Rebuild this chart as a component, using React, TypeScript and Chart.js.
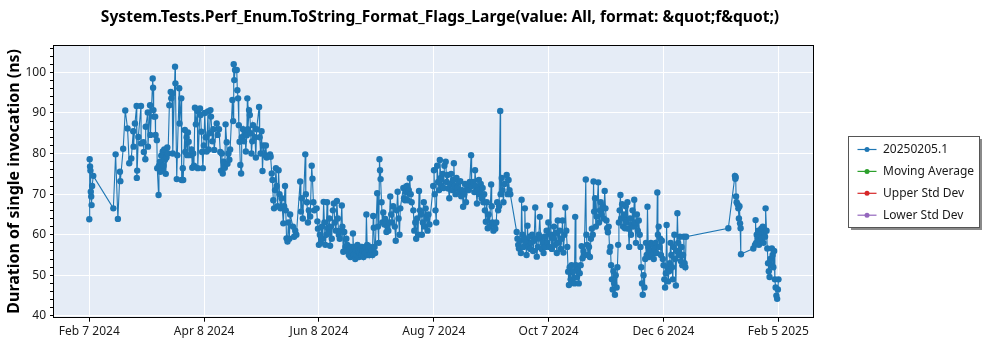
import React, { useEffect, useRef } from "react";
import { Chart, registerables } from "chart.js";

Chart.register(...registerables);

const chartTitle =
  "System.Tests.Perf_Enum.ToString_Format_Flags_Large(value: All, format: &quot;f&quot;)";
const yAxisTitle = "Duration of single invocation (ns)";

const seriesNames = ["20250205.1", "Moving Average", "Upper Std Dev", "Lower Std Dev"];
const seriesColors = ["#1f77b4", "#2ca02c", "#d62728", "#9467bd"];

// x values are days after Feb 7 2024
const xTickDays = [0, 60.67, 121.33, 182, 242.67, 303.33, 364];
const xTickLabels = [
  "Feb 7 2024",
  "Apr 8 2024",
  "Jun 8 2024",
  "Aug 7 2024",
  "Oct 7 2024",
  "Dec 6 2024",
  "Feb 5 2025",
];
const xRange = [-18.65, 382.5];
const yRange = [39.8, 106.5];
const yMajorStep = 10;
const yMinorStep = 2;

// [day, duration ns]
const samples: [number, number][] = [
  [0, 63.8], [0.2, 78.6], [0.4, 76.8], [0.6, 75.8], [0.8, 70.6], [1.0, 69.4], [1.2, 67.3], [1.5, 72], [2.1, 74.5],
  [12.7, 66.5], [13.9, 79.8], [15.1, 63.9], [16.2, 75.5], [16.4, 73.2], [17.9, 81.2], [19, 90.6], [20.2, 86.2],
  [21.1, 77.6], [22.2, 78.8], [23.2, 85.5], [23.4, 81.7], [24.1, 87.4], [25, 91.7], [25.1, 74], [25.3, 75.8],
  [25.9, 84.1], [27.3, 91.7], [27.4, 82.5], [28.6, 82.8], [28.8, 80.4], [29.6, 78.6], [29.8, 86.6], [30.9, 90.1],
  [31, 81.7], [32.1, 91.9], [32.3, 84.6], [33.5, 98.5], [33.7, 96.2], [33.9, 90.7], [34.1, 89.1], [34.8, 89.1],
  [35, 84.6], [35.7, 83.3], [35.9, 76.4], [36.6, 69.8], [36.8, 77],
  [37.3, 78], [37.6, 75.5], [38, 79.5], [38.4, 76], [38.8, 80.5], [39.2, 77], [39.6, 81], [40, 78.5], [40.4, 75],
  [40.8, 79], [41.2, 81.5], [41.6, 80],
  [42.3, 91.9], [43, 95.2], [43.3, 93.6], [43.8, 94.8], [44.1, 80], [45.3, 101.4], [45.5, 97.3], [46.2, 73.7],
  [46.5, 79.6], [47.5, 96.1], [47.7, 87.4], [48.6, 93.6], [48.8, 73.5], [49.4, 76.4], [49.6, 73.5], [50.5, 85.8],
  [50.7, 80.4], [51.4, 84], [51.7, 79.6], [52.1, 85.2], [52.5, 82.9], [53.3, 79.6], [54, 81], [54.4, 76.5],
  [54.9, 80], [55.3, 77], [55.8, 91.3], [56.3, 87.2], [57.1, 90.5], [57.3, 76.4],
  [58.5, 91.1], [58.8, 89.5], [59.2, 85.4], [59.6, 80.4], [60, 76.4], [60.5, 82], [61, 90], [61.5, 84], [62, 80.5],
  [62.7, 90.4], [63, 81], [63.5, 85], [64, 90.7], [64.3, 89.1], [65, 83], [65.5, 86], [66, 80.9],
  [67.3, 87.4], [67.8, 84.6], [68.5, 86],
  [69.2, 80.4], [69.6, 75.8], [70, 80], [70.5, 75.1], [71, 78], [71.6, 76.5], [72, 87.2],
  [72.6, 82.8], [73, 77.5], [73.5, 80], [74, 78.5], [74.4, 81],
  [75.6, 93.2], [76, 88], [76.3, 102], [76.6, 98.1], [77, 100.6], [77.9, 100.6], [78.2, 95.6], [78.6, 93.6],
  [79, 87], [79.4, 82.9], [79.8, 77.2], [80.2, 75.1], [80.5, 84],
  [81.2, 86], [81.7, 83], [82.2, 85], [82.7, 80.5], [83.2, 84.5], [83.5, 93.6], [83.8, 86],
  [84.4, 90.7], [84.8, 89.5], [85.3, 85], [85.7, 80], [86.1, 83], [86.5, 87],
  [87.5, 84], [88, 79], [88.4, 86], [89.7, 91.5], [90, 84],
  [90.5, 80], [91, 85.5], [91.5, 75.7], [92, 82], [92.8, 79.6], [93.3, 82], [93.7, 79], [95.5, 79.8], [95.8, 79.2],
  [96.4, 75.1], [96.8, 73.5], [97.2, 68.5], [97.6, 66.5], [98.1, 71],
  [98.6, 76.4], [99, 72], [99.5, 67], [100, 75.9], [100.5, 70], [101, 66.5], [101.6, 69],
  [102.5, 62.8], [102.9, 67],
  [103.4, 72], [103.8, 66], [104.2, 59.1], [104.7, 58.3], [105.2, 63], [105.7, 59], [106.1, 65],
  [107.6, 62], [108.2, 59.5], [108.8, 61], [109.4, 60],
  [111.4, 73.1], [111.8, 65.7], [112.3, 69], [112.8, 64], [114.1, 79.8], [114.4, 70],
  [115, 68], [115.5, 63], [116, 66], [116.7, 64.5],
  [117.5, 77], [117.9, 73.8], [118.4, 68], [118.9, 66],
  [120.1, 66.5], [120.5, 63.3],
  [120.8, 61.5], [121.3, 57.5], [121.8, 60], [122.3, 58], [122.8, 62], [123.3, 59],
  [123.8, 68.1], [124.2, 63], [124.7, 57.5], [125.2, 60], [125.6, 68], [126, 61.6], [126.3, 60.5],
  [126.8, 64], [127.2, 57.3], [127.7, 62], [128.1, 59],
  [128.7, 66], [129.2, 67.7], [129.7, 63], [130.3, 61], [130.8, 68.3], [131.3, 64],
  [131.8, 60], [132.3, 59], [132.8, 61], [133.4, 67.2], [133.7, 62],
  [134.2, 55.8], [134.7, 60.7], [135.3, 57], [135.8, 59],
  [136.3, 57.5], [136.7, 56], [137.1, 55], [137.5, 56.5], [137.9, 54.5], [138.3, 57], [138.7, 55.5], [139.1, 56],
  [139.3, 60.3], [139.7, 55], [140.1, 57], [140.5, 54], [140.9, 56], [141.3, 55], [141.7, 57.5], [142.1, 56],
  [142.5, 54.5], [142.9, 55.5], [143.3, 56.5], [143.7, 55], [144.1, 57], [144.5, 56], [144.9, 54.5], [145.3, 56],
  [145.7, 55.5], [146.1, 57], [146.4, 65], [146.8, 57.5], [147.2, 55], [147.6, 56.5], [148, 55], [148.4, 57],
  [148.8, 55.5], [149.2, 56], [149.6, 55], [150, 64.6], [150.3, 61.7], [150.7, 57], [151, 55.5],
  [152.1, 70.2], [152.5, 62], [152.9, 58],
  [153.3, 78.6], [153.6, 75.9], [153.9, 73.7],
  [154.4, 68], [154.8, 63], [155.3, 65.5],
  [155.9, 62.5], [156.4, 63.9], [157, 60.7], [157.5, 62], [158, 61], [158.5, 63],
  [159, 69.4], [159.5, 65], [160, 63], [160.5, 67],
  [161.4, 62], [161.9, 58.5], [162.4, 66], [162.9, 70.6], [163.4, 64], [163.9, 60], [164.3, 66.5],
  [165.9, 71.5], [166.3, 69], [166.8, 68.5], [167.3, 70.5], [167.8, 72], [168.3, 68.5], [168.8, 71], [169.3, 73.9],
  [169.8, 70], [170.3, 68],
  [171.2, 66], [171.7, 61], [172.2, 63], [172.7, 59], [173.2, 64], [173.7, 60], [174.2, 70.8], [174.7, 66],
  [175.2, 65], [175.7, 60], [176.2, 63], [176.7, 68], [177.2, 62], [177.7, 66.5], [178.2, 64], [178.7, 61],
  [179.2, 65], [179.7, 62.5],
  [181.7, 72], [182.1, 75.9], [182.5, 70], [182.9, 66], [183.3, 63],
  [183.8, 77], [184.3, 73], [184.8, 71], [185.2, 78.4], [185.7, 74], [186.2, 72], [186.7, 75], [187.2, 71.5],
  [187.6, 77], [188.3, 78], [188.8, 73],
  [189.2, 74.7], [189.7, 71.4], [190.2, 69], [190.7, 72.5], [191.2, 75], [191.7, 71], [192.2, 73.5], [192.6, 77.6],
  [193, 72], [193.5, 70], [194, 74], [194.5, 71.5], [195, 73], [195.5, 70.5],
  [196, 73.2], [196.5, 69.5], [197, 71], [197.5, 66.9], [198, 70], [198.5, 72.5], [199, 68],
  [200, 72], [200.5, 71], [201, 73], [201.7, 79.6], [202, 72],
  [202.9, 73], [203.4, 70.5], [203.8, 75.9], [204.3, 72], [204.8, 67.7], [205.3, 71], [205.8, 73.5], [206.3, 70],
  [206.8, 72.5], [207.3, 69], [207.8, 71.5], [208.2, 68],
  [208.6, 70], [209, 66], [209.5, 63.2], [210, 68], [210.5, 61.6], [211, 65], [211.5, 62],
  [212.3, 72.4], [212.6, 67], [213, 63], [213.5, 61], [214, 62.5], [214.5, 61.5], [215, 63],
  [215.5, 68], [216, 66], [216.5, 67], [217.1, 90.5], [217.3, 70],
  [217.9, 74], [218.3, 71], [218.8, 68], [219.3, 72.5],
  [220.5, 74.7], [221, 70], [221.5, 73.5], [222, 71], [222.4, 70],
  [225.8, 60.7], [226.2, 59], [226.6, 57.5], [227, 56.6], [227.5, 58.5], [228, 55.5], [228.4, 68.6], [228.8, 60],
  [229.3, 57], [229.8, 59], [230.1, 66.5], [230.5, 58], [231, 55],
  [231.5, 62.2], [232, 57], [232.5, 59.5], [233, 56.5], [233.5, 58], [234, 60], [234.5, 56], [235, 58.5],
  [235.6, 66.7], [236, 59], [236.4, 54.6],
  [237, 57], [237.5, 60], [238, 64.4], [238.5, 59], [239, 56.5], [239.5, 58], [240, 55.5], [240.5, 59.5], [241, 57],
  [241.6, 61], [242, 58], [242.5, 63], [243, 57], [243.5, 67.3], [243.9, 60], [244.4, 56.5], [244.9, 59],
  [245.5, 62], [246, 57.5], [246.5, 60.5], [247, 55.5], [247.5, 63.5], [248, 58], [248.5, 61], [249, 56.5],
  [249.5, 59], [250, 63.5], [250.5, 55.6], [251, 60],
  [251.5, 66.7], [252, 61], [252.5, 57], [253, 50.9], [253.4, 47.6], [253.8, 52], [254.3, 49],
  [254.8, 52.5], [255.3, 48.5], [255.8, 51], [256.3, 48], [256.7, 64.4], [257.1, 52.5], [257.6, 49.5], [258.1, 51.5],
  [258.6, 48], [259.1, 50.5], [259.6, 52.5],
  [260.1, 57.2], [260.6, 54.2], [261.1, 56], [261.5, 55], [262.3, 73.6], [262.6, 60],
  [263, 57.5], [263.5, 55], [264, 57], [264.5, 54.5], [265, 59], [265.5, 61.5], [266, 60], [266.4, 73.1], [266.7, 65.7],
  [267.2, 69], [267.6, 62], [268, 64.5], [268.9, 72.9], [269.3, 63], [269.8, 66],
  [270.2, 68], [270.7, 65], [271.2, 67], [271.7, 64], [272.3, 70.8], [272.7, 66.5], [273.2, 63.5],
  [273.6, 61.6], [274, 60.6], [274.4, 62], [274.9, 55.8],
  [275.3, 57], [275.7, 52.5], [276.1, 49], [276.5, 46.5], [276.9, 51], [277.3, 48], [277.7, 45.2], [278.1, 50],
  [278.6, 47], [279, 52], [279.4, 57.5],
  [279.8, 63], [280.2, 66], [280.6, 69.8], [281, 64], [281.5, 67.5], [282, 62], [282.5, 65], [283, 61.6],
  [283.4, 67], [283.8, 63], [284.3, 68], [284.8, 61.5], [285.2, 57], [285.7, 64], [286.2, 60], [286.6, 62.5],
  [287, 66], [287.4, 62], [287.9, 68.6], [288.3, 63], [288.8, 58], [289.3, 65], [289.8, 61], [290.3, 63.5], [290.8, 60],
  [291.2, 57], [291.6, 52], [292, 48], [292.4, 45.2], [292.8, 50], [293.3, 47], [293.7, 54],
  [294.1, 58], [294.5, 55], [294.9, 66.9], [295.3, 57], [295.7, 54.5], [296.2, 56], [296.7, 58], [297.2, 55],
  [297.7, 57.5], [298.2, 54], [298.7, 56.5], [299.2, 58], [299.7, 55.5],
  [300.1, 70.4], [300.4, 60], [300.8, 62], [301.2, 57], [301.6, 59], [302, 55], [302.5, 58.5], [303, 54],
  [303.4, 52.5], [303.8, 49], [304.2, 47], [304.6, 50.5], [305, 62.4], [305.4, 52], [305.8, 48.5], [306.3, 51], [306.7, 53],
  [307.1, 58], [307.5, 55], [307.9, 52], [308.3, 49], [308.7, 57], [309.1, 60], [309.5, 54], [309.9, 47.5],
  [310.3, 56], [310.7, 65.3], [311.1, 58],
  [311.6, 55], [312, 59.5], [312.5, 53.5], [312.9, 57], [313.3, 52.5], [313.7, 55], [314.1, 59.5], [314.5, 53],
  [314.9, 52], [315.3, 59.5],
  [337.6, 61.6],
  [341.1, 74.5], [341.3, 73.8], [341.5, 74.2], [341.7, 69.4], [342, 68], [342.5, 67.5], [342.9, 66.5], [343.2, 64],
  [343.5, 67], [343.8, 62.8], [344.1, 61.6], [344.3, 55.2],
  [350.8, 56.6], [351.7, 57.5], [352, 63.6], [352.3, 58], [352.6, 60],
  [353, 59], [353.4, 61], [353.8, 57.5], [354.2, 60], [354.6, 58.5], [355, 61.5], [355.4, 59], [355.8, 62],
  [356.2, 58], [356.6, 60.5], [357, 59.5], [357.3, 66.5], [357.8, 61],
  [358.2, 56.6], [358.6, 53], [359, 51], [359.4, 49.6], [359.8, 54], [360.2, 52.5],
  [360.6, 56.6], [361, 55], [361.4, 52], [361.8, 56], [362.2, 49], [362.6, 47], [363, 45], [363.4, 44.2],
  [363.8, 46.5], [364.1, 49],
];

const FONT = "'Segoe UI', 'Noto Sans', sans-serif";

const decorPlugin = {
  id: "decor",
  beforeDraw(chart: any) {
    const { ctx, chartArea: a } = chart;
    ctx.save();
    ctx.fillStyle = "#ffffff";
    ctx.fillRect(0, 0, chart.width, chart.height);
    ctx.fillStyle = "#e5ecf6";
    ctx.fillRect(a.left, a.top, a.right - a.left, a.bottom - a.top);
    ctx.restore();
  },
  afterDraw(chart: any) {
    const { ctx, chartArea: a } = chart;
    ctx.save();
    // plot border
    ctx.strokeStyle = "#000000";
    ctx.lineWidth = 1;
    ctx.strokeRect(Math.round(a.left) - 0.5, Math.round(a.top) - 0.5, Math.round(a.right - a.left) + 1, Math.round(a.bottom - a.top) + 1);

    // title
    ctx.fillStyle = "#000000";
    ctx.font = `bold 15.6px ${FONT}`;
    ctx.textAlign = "center";
    ctx.textBaseline = "middle";
    ctx.fillText(chartTitle, 440, 18);

    // y axis title
    ctx.save();
    ctx.translate(14, (a.top + a.bottom) / 2);
    ctx.rotate(-Math.PI / 2);
    ctx.font = `bold 16px ${FONT}`;
    ctx.fillText(yAxisTitle, 0, 0);
    ctx.restore();

    // legend
    const bx = 848.5, by = 136.5, bw = 131, bh = 91;
    ctx.fillStyle = "#8a8a8a";
    ctx.fillRect(bx + 2.5, by + 2.5, bw, bh);
    ctx.fillStyle = "#ffffff";
    ctx.fillRect(bx, by, bw, bh);
    ctx.strokeStyle = "#555555";
    ctx.lineWidth = 1;
    ctx.strokeRect(bx, by, bw, bh);
    ctx.font = `12px ${FONT}`;
    ctx.textAlign = "left";
    ctx.textBaseline = "middle";
    chart.data.datasets.forEach((ds: any, i: number) => {
      const yy = 149.5 + i * 21.9;
      ctx.strokeStyle = ds.borderColor;
      ctx.lineWidth = 1.2;
      ctx.beginPath();
      ctx.moveTo(857.5, yy);
      ctx.lineTo(876.5, yy);
      ctx.stroke();
      ctx.fillStyle = ds.borderColor;
      ctx.beginPath();
      ctx.arc(867, yy, 2.5, 0, Math.PI * 2);
      ctx.fill();
      ctx.fillStyle = "#1a1a1a";
      ctx.fillText(ds.label, 883, yy);
    });
    ctx.restore();
  },
};

export default function App() {
  const ref = useRef<HTMLCanvasElement | null>(null);
  useEffect(() => {
    if (!ref.current) return;
    const yTicks: number[] = [];
    for (let v = 40; v <= yRange[1]; v += yMinorStep) yTicks.push(v);
    const chart = new Chart(ref.current, {
      type: "line",
      data: {
        datasets: seriesNames.map((name, i) => ({
          label: name,
          data: i === 0 ? samples.map(([d, v]) => ({ x: d, y: v })) : [],
          borderColor: seriesColors[i],
          backgroundColor: seriesColors[i],
          borderWidth: 1.1,
          pointRadius: 3.2,
          pointBorderWidth: 0,
          pointHoverRadius: 3.2,
          tension: 0,
        })),
      },
      options: {
        animation: false,
        responsive: false,
        events: [],
        layout: { padding: { top: 46, right: 186.7, left: 0, bottom: 0 } },
        plugins: { legend: { display: false }, title: { display: false }, tooltip: { enabled: false } },
        scales: {
          x: {
            type: "linear",
            min: xRange[0],
            max: xRange[1],
            afterFit: (s: any) => {
              s.height = 33.3;
            },
            afterBuildTicks: (s: any) => {
              s.ticks = xTickDays.map((v) => ({ value: v }));
            },
            ticks: {
              autoSkip: false,
              maxRotation: 0,
              padding: 3,
              color: "#1a1a1a",
              font: { family: FONT, size: 12 },
              callback: (_v: any, idx: number) => xTickLabels[idx],
            },
            grid: { color: "#ffffff", lineWidth: 1, tickLength: 5, tickColor: "#000000" },
            border: { display: false },
          },
          y: {
            type: "linear",
            min: yRange[0],
            max: yRange[1],
            afterFit: (s: any) => {
              s.width = 54;
            },
            afterBuildTicks: (s: any) => {
              s.ticks = yTicks.map((v) => ({ value: v }));
            },
            ticks: {
              autoSkip: false,
              padding: 4,
              color: "#1a1a1a",
              font: { family: FONT, size: 12 },
              callback: (v: any) => (Number(v) % yMajorStep === 0 ? String(v) : ""),
            },
            grid: {
              color: (c: any) => (c.tick && c.tick.value % yMajorStep === 0 ? "#ffffff" : "rgba(0,0,0,0)"),
              lineWidth: 1,
              tickLength: 4,
              tickColor: "#000000",
            },
            border: { display: false },
          },
        },
      },
      plugins: [decorPlugin],
    } as any);
    return () => chart.destroy();
  }, []);
  return (
    <div style={{ position: "fixed", left: 0, top: 0, width: 1000, height: 350, background: "#fff" }}>
      <canvas ref={ref} width={1000} height={350} style={{ width: 1000, height: 350, display: "block" }} />
    </div>
  );
}
